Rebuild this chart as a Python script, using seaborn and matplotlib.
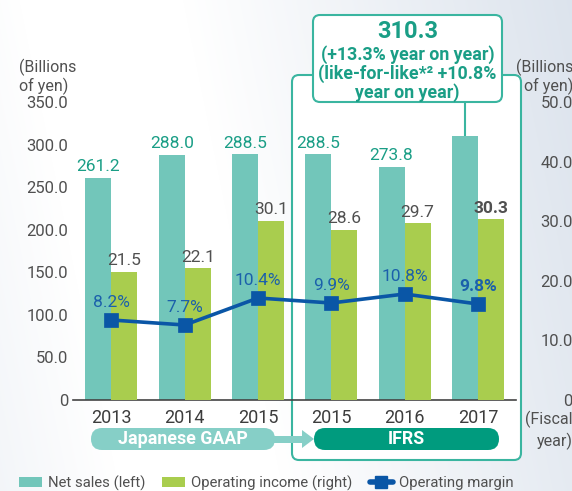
import numpy as np
import pandas as pd
import matplotlib
matplotlib.use("Agg")
import matplotlib.pyplot as plt
from matplotlib.patches import FancyBboxPatch, Patch, Polygon, Rectangle
from matplotlib.lines import Line2D
import seaborn as sns

# ---- data -------------------------------------------------------------
periods = ["FY2013 JGAAP", "FY2014 JGAAP", "FY2015 JGAAP",
           "FY2015 IFRS", "FY2016 IFRS", "FY2017 IFRS"]
year_labels = ["2013", "2014", "2015", "2015", "2016", "2017"]
net_sales = [261.2, 288.0, 288.5, 288.5, 273.8, 310.3]          # billions of yen (left)
operating_income = [21.5, 22.1, 30.1, 28.6, 29.7, 30.3]          # billions of yen (right)
operating_margin = [8.2, 7.7, 10.4, 9.9, 10.8, 9.8]              # %
left_ticks = [0, 50, 100, 150, 200, 250, 300, 350]
right_ticks = [0, 10, 20, 30, 40, 50]
series_names = ["Net sales (left)", "Operating income (right)"]
callout_lines = ["(+13.3% year on year)", "(like-for-like*² +10.8%", "year on year)"]

# ---- style ------------------------------------------------------------
TEAL = "#72c6ba"
GREEN = "#a9cd4e"
BLUE = "#0a56a6"
TEAL_TXT = "#1a9e86"
GREY_TXT = "#505050"
BLUE_TXT = "#1b60ab"
FRAME = "#3ab5a0"

sns.set_theme(style="white")
plt.rcParams["font.family"] = ["Roboto", "DejaVu Sans"]

W, H = 572, 491
fig = plt.figure(figsize=(W / 100, H / 100), dpi=100)

# soft diagonal backdrop
bg = fig.add_axes([0, 0, 1, 1], zorder=-10)
yy, xx = np.mgrid[0:H, 0:W]
d = ((xx - 60) * 491 - yy * 100) / 501
t = np.clip((d - 120) / 380, 0, 1) + 0.6 * np.clip((-d - 40) / 200, 0, 1)
t = np.clip(t, 0, 1)[..., None]
edge = np.array([0.865, 0.893, 0.93])
img = (1 - t) * np.ones(3) + t * edge
bg.imshow(img, extent=(0, W, H, 0), aspect="auto", interpolation="bilinear")
bg.set_xlim(0, W)
bg.set_ylim(H, 0)
bg.axis("off")
# IFRS frame
bg.add_patch(FancyBboxPatch((292, 75), 229, 385,
                            boxstyle="round,pad=0,rounding_size=7",
                            fc="white", ec=FRAME, lw=1.5))

# ---- main axes ---------------------------------------------------------
ax = fig.add_axes([73 / W, 1 - 400 / H, (516 - 73) / W, (400 - 102) / H])
ax.patch.set_alpha(0)
ax2 = ax.twinx()
ax3 = ax.twinx()

df = pd.DataFrame({
    "period": periods * 2,
    "series": [series_names[0]] * len(periods) + [series_names[1]] * len(periods),
    "value": net_sales + operating_income,
})


def drawn_bars(axis):
    """Return the bar container that actually holds rectangles."""
    for c in axis.containers:
        if len(c) and all(p is not None for p in c):
            return c
    return None


sns.barplot(data=df[df.series == series_names[0]], x="period", y="value",
            hue="series", hue_order=series_names, order=periods,
            palette=[TEAL, GREEN], dodge=True, width=0.71, gap=0,
            errorbar=None, saturation=1, linewidth=0, legend=False, ax=ax)
sns.barplot(data=df[df.series == series_names[1]], x="period", y="value",
            hue="series", hue_order=series_names, order=periods,
            palette=[TEAL, GREEN], dodge=True, width=0.71, gap=0,
            errorbar=None, saturation=1, linewidth=0, legend=False, ax=ax2)

sns.pointplot(x=periods, y=operating_margin, order=periods, color=BLUE,
              markers="s", markersize=8, linewidth=2.6, errorbar=None, ax=ax3)

ax.set_ylim(0, 350)
ax2.set_ylim(0, 50)
ax3.set_ylim(0.2, 30.0)
ax.set_xlim(-0.525, 5.52)

ns_bars = drawn_bars(ax)
oi_bars = drawn_bars(ax2)

# value labels (the FY2017 sales figure is carried by the callout instead)
ns_labels = [f"{v:.1f}" for v in net_sales]
ns_labels[-1] = ""
ax.bar_label(ns_bars, labels=ns_labels, padding=2.5, color=TEAL_TXT, fontsize=12.5)
oi_texts = ax2.bar_label(oi_bars, labels=[f"{v:.1f}" for v in operating_income],
                         padding=2.5, color=GREY_TXT, fontsize=12.5)
oi_texts[-1].set_fontweight("bold")
for i, m in enumerate(operating_margin):
    ax3.annotate(f"{m:.1f}%", (i, m), xytext=(0, 12.5), textcoords="offset points",
                 ha="center", va="center", color=BLUE_TXT, fontsize=12.5,
                 fontweight="bold" if i == len(operating_margin) - 1 else "normal")

# axes cosmetics
for a in (ax, ax2, ax3):
    for s in a.spines.values():
        s.set_visible(False)
    a.grid(False)
ax.spines["bottom"].set_visible(True)
ax.spines["bottom"].set_color("#444444")
ax.spines["bottom"].set_linewidth(1.2)

ax.set_xticks(range(len(periods)))
ax.set_xticklabels(year_labels, fontsize=13, color="#3c3c3c")
ax.tick_params(axis="x", length=0, pad=6.5)
ax.set_xlabel("")
ax.set_ylabel("")
ax.set_yticks(left_ticks)
ax.set_yticklabels(["0" if v == 0 else f"{v:.1f}" for v in left_ticks],
                   fontsize=12, color=GREY_TXT)
ax.tick_params(axis="y", length=0, pad=3.5)

ax2.set_ylabel("")
ax2.set_yticks(right_ticks)
ax2.set_yticklabels(["0" if v == 0 else f"{v:.1f}" for v in right_ticks],
                    fontsize=12, color=GREY_TXT)
ax2.tick_params(axis="y", length=0, pad=41)
for lab in ax2.get_yticklabels():
    lab.set_horizontalalignment("right")
ax3.set_ylabel("")
ax3.set_yticks([])

# connector from the FY2017 sales bar up to the callout
bar = ns_bars[len(periods) - 1]
bx = bar.get_x() + bar.get_width() / 2
ax.vlines(bx, bar.get_height(), ax.get_ylim()[1], color=FRAME, lw=1.5, clip_on=False)

# ---- overlay: callout, accounting-standard pills, unit labels ----------
ov = fig.add_axes([0, 0, 1, 1], zorder=20)
ov.set_xlim(0, W)
ov.set_ylim(H, 0)
ov.axis("off")
ov.patch.set_alpha(0)

ov.add_patch(FancyBboxPatch((313, 15), 189, 87, boxstyle="round,pad=0,rounding_size=7",
                            fc="white", ec=FRAME, lw=1.5))
ov.text(407.5, 31, f"{net_sales[-1]:.1f}", ha="center", va="center",
        fontsize=17, fontweight="bold", color=TEAL_TXT)
for yline, line in zip([55, 74, 93], callout_lines):
    ov.text(407.5, yline, line, ha="center", va="center",
            fontsize=12.8, fontweight="bold", color=TEAL_TXT)

GAAP_C = "#86cfc7"
IFRS_C = "#009b7e"
ov.add_patch(FancyBboxPatch((91, 428), 184, 22, boxstyle="round,pad=0,rounding_size=11",
                            fc=GAAP_C, ec="none"))
ov.add_patch(Rectangle((268, 436), 35, 6.5, fc=GAAP_C, ec="none"))
ov.add_patch(Polygon([(302, 430), (314, 439), (302, 448)], closed=True, fc=GAAP_C, ec="none"))
ov.add_patch(FancyBboxPatch((314, 428), 185, 22, boxstyle="round,pad=0,rounding_size=11",
                            fc=IFRS_C, ec="none"))
ov.text(183, 439.5, "Japanese GAAP", ha="center", va="center", fontsize=12.8,
        fontweight="bold", color="white")
ov.text(406.5, 439.5, "IFRS", ha="center", va="center", fontsize=12.8,
        fontweight="bold", color="white")

ov.text(19, 77, "(Billions\nof yen)", ha="left", va="center", fontsize=11.5,
        color=GREY_TXT, linespacing=1.1)
ov.text(573, 77, "(Billions\nof yen)", ha="right", va="center", fontsize=11.5,
        color=GREY_TXT, linespacing=1.1, multialignment="right")
ov.text(573, 419, "(Fiscal", ha="right", va="center", fontsize=11.5, color=GREY_TXT)
ov.text(573, 441, "year)", ha="right", va="center", fontsize=11.5, color=GREY_TXT)

handles = [Patch(fc=TEAL, ec="none"), Patch(fc=GREEN, ec="none"),
           Line2D([], [], color=BLUE, lw=4, marker="s", markersize=9)]
fig.legend(handles, series_names + ["Operating margin"], loc="center left",
           bbox_to_anchor=(19 / W, 1 - 483 / H), ncol=3, frameon=False,
           fontsize=10.7, labelcolor=GREY_TXT, handlelength=1.55, handleheight=0.74,
           handletextpad=0.4, columnspacing=1.15, borderpad=0, borderaxespad=0)

fig.savefig("out.png", dpi=100)
